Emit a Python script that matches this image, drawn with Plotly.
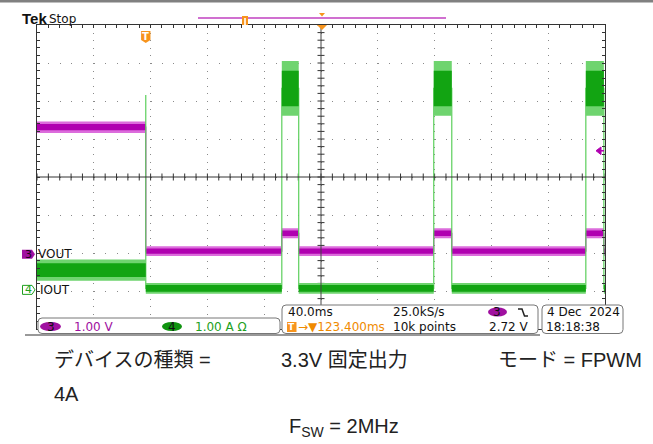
import plotly.graph_objects as go

# ---- scope settings (read from the capture) ----
t_center = 123.4      # ms, horizontal position
t_div = 40.0          # ms/div
ch3_pos = -2.03       # div, VOUT ground marker
ch4_pos = -2.97       # div, IOUT ground marker
ch3_scale = 1.0       # V/div
ch4_scale = 1.0       # A/div
trig_level = 2.72     # V on ch3

# ---- waveform segments (ms) ----
seg_t = [-76.6, 0.0, 95.8, 107.7, 202.8, 215.5, 309.9, 322.6, 323.4]

vout_level = [3.34, 0.08, 0.55, 0.08, 0.55, 0.08, 0.55, 0.08]
vout_noise = [0.15, 0.13, 0.13, 0.13, 0.13, 0.13, 0.13, 0.13]

iout_level = [0.52, 0.04, 5.30, 0.04, 5.30, 0.04, 5.30, 0.04]
iout_noise = [0.28, 0.14, 0.72, 0.14, 0.72, 0.14, 0.72, 0.14]
iout_spike = 5.13     # A, at the trigger edge

# ---- page geometry in pixels ----
W, H = 653, 444
L, T, R, B = 37, 25, 605, 329


def X(px):
    return (px - L) / (R - L)


def Y(py):
    return (B - py) / (B - T)


def band(levels, noise, frac=1.0):
    xs, ys = [], []
    for i, (lv, nz) in enumerate(zip(levels, noise)):
        a, b = seg_t[i], seg_t[i + 1]
        hi, lo = lv + nz * frac, lv - nz * frac
        xs += [a, b, b, a, a, None]
        ys += [hi, hi, lo, lo, hi, None]
    return xs, ys


def edges(levels, spike=None):
    xs, ys = [], []
    for i, lv in enumerate(levels):
        xs += [seg_t[i], seg_t[i + 1]]
        ys += [lv, lv]
        if i == 0 and spike is not None:
            xs.append(seg_t[1])
            ys.append(spike)
    return xs, ys


def rbox(x0, y0, x1, y1, r=4):
    return (f"M {X(x0 + r)},{Y(y0)} L {X(x1 - r)},{Y(y0)} "
            f"Q {X(x1)},{Y(y0)} {X(x1)},{Y(y0 + r)} L {X(x1)},{Y(y1 - r)} "
            f"Q {X(x1)},{Y(y1)} {X(x1 - r)},{Y(y1)} L {X(x0 + r)},{Y(y1)} "
            f"Q {X(x0)},{Y(y1)} {X(x0)},{Y(y1 - r)} L {X(x0)},{Y(y0 + r)} "
            f"Q {X(x0)},{Y(y0)} {X(x0 + r)},{Y(y0)} Z")


fig = go.Figure()

# IOUT (ch4, green)
ex, ey = edges(iout_level, iout_spike)
fig.add_trace(go.Scatter(x=ex, y=ey, yaxis="y3", mode="lines",
                         line=dict(color="#5ccf5c", width=1.2)))
bx, by = band(iout_level, iout_noise)
fig.add_trace(go.Scatter(x=bx, y=by, yaxis="y3", mode="lines", fill="toself",
                         fillcolor="#6fd46f", line=dict(width=0)))
bx, by = band(iout_level, iout_noise, 0.65)
fig.add_trace(go.Scatter(x=bx, y=by, yaxis="y3", mode="lines", fill="toself",
                         fillcolor="#12a412", line=dict(width=0)))

# VOUT (ch3, magenta)
ex, ey = edges(vout_level)
fig.add_trace(go.Scatter(x=ex, y=ey, yaxis="y2", mode="lines",
                         line=dict(color="#c020c0", width=1.2)))
bx, by = band(vout_level, vout_noise)
fig.add_trace(go.Scatter(x=bx, y=by, yaxis="y2", mode="lines", fill="toself",
                         fillcolor="#dc6cdc", line=dict(width=0)))
bx, by = band(vout_level, vout_noise, 0.55)
fig.add_trace(go.Scatter(x=bx, y=by, yaxis="y2", mode="lines", fill="toself",
                         fillcolor="#b000b0", line=dict(width=0)))

# graticule ticks on the centre cross
tick_t = [t_center + k * t_div / 5 for k in range(-25, 26)]
tick_v = [k * 0.2 for k in range(-20, 21)]
fig.add_trace(go.Scatter(x=tick_t, y=[0] * len(tick_t), mode="markers",
                         marker=dict(symbol="line-ns", size=5,
                                     line=dict(width=1, color="#333"))))
fig.add_trace(go.Scatter(x=[t_center] * len(tick_v), y=tick_v, mode="markers",
                         marker=dict(symbol="line-ew", size=5,
                                     line=dict(width=1, color="#333"))))

fig.update_traces(showlegend=False, hoverinfo="skip")

shapes = []
# centre lines
shapes.append(dict(type="line", xref="paper", yref="y", x0=0, x1=1, y0=0, y1=0,
                   line=dict(color="#333", width=1)))
shapes.append(dict(type="line", xref="x", yref="paper", x0=t_center, x1=t_center,
                   y0=0, y1=1, line=dict(color="#444", width=1)))
# top grey bar and record view bar
shapes.append(dict(type="rect", xref="paper", yref="paper", x0=X(0), x1=X(W),
                   y0=Y(2.5), y1=Y(0), fillcolor="#808080", line=dict(width=0)))
shapes.append(dict(type="line", xref="paper", yref="paper", x0=X(198), x1=X(446),
                   y0=Y(18), y1=Y(18), line=dict(color="#c040c0", width=1.5)))
shapes.append(dict(type="rect", xref="paper", yref="paper", x0=X(242), x1=X(248),
                   y0=Y(25), y1=Y(16), fillcolor="#f7941d", line=dict(width=0)))
shapes.append(dict(type="rect", xref="paper", yref="paper", x0=X(244.2), x1=X(245.8),
                   y0=Y(25), y1=Y(18), fillcolor="white", line=dict(width=0)))
shapes.append(dict(type="path", xref="paper", yref="paper",
                   path=f"M {X(319)},{Y(13)} L {X(325)},{Y(13)} L {X(322)},{Y(16.5)} Z",
                   fillcolor="#f7941d", line=dict(width=0)))
shapes.append(dict(type="path", xref="paper", yref="paper",
                   path=f"M {X(317)},{Y(25)} L {X(327)},{Y(25)} L {X(322)},{Y(30)} Z",
                   fillcolor="#f7941d", line=dict(width=0)))
# trigger position marker
shapes.append(dict(type="path", xref="x", yref="paper",
                   path=f"M -3.3,{Y(31)} L 3.3,{Y(31)} L 3.3,{Y(40)} L 0,{Y(43)} L -3.3,{Y(40)} Z",
                   fillcolor="#f7941d", line=dict(width=0)))
# trigger level marker (right edge)
ty = ch3_pos + trig_level / ch3_scale
shapes.append(dict(type="path", xref="paper", yref="y",
                   path=f"M {X(596)},{ty} L {X(601)},{ty + 0.1} L {X(601)},{ty - 0.1} Z",
                   fillcolor="#b000b0", line=dict(color="#b000b0", width=1)))
shapes.append(dict(type="line", xref="paper", yref="y", x0=X(600), x1=X(604),
                   y0=ty, y1=ty, line=dict(color="#b000b0", width=1.5)))
# channel ground markers
y3 = ch3_pos
y4 = ch4_pos
d = 4.5 / 38
shapes.append(dict(type="path", xref="paper", yref="y",
                   path=f"M {X(22)},{y3 + d} L {X(32)},{y3 + d} L {X(35)},{y3} "
                        f"L {X(32)},{y3 - d} L {X(22)},{y3 - d} Z",
                   fillcolor="#a010a0", line=dict(width=0)))
shapes.append(dict(type="path", xref="paper", yref="y",
                   path=f"M {X(22.5)},{y4 + d} L {X(32)},{y4 + d} L {X(35)},{y4} "
                        f"L {X(32)},{y4 - d} L {X(22.5)},{y4 - d} Z",
                   fillcolor="white", line=dict(color="#20a020", width=1)))
# bottom frame line
shapes.append(dict(type="line", xref="paper", yref="paper", x0=X(25), x1=X(540),
                   y0=Y(335), y1=Y(335), line=dict(color="#333", width=1)))
# status boxes
for bx0, by0, bx1, by1 in [(38, 318, 280, 333.5), (282, 305, 538, 333.5), (542, 305, 623, 333.5)]:
    shapes.append(dict(type="path", xref="paper", yref="paper", path=rbox(bx0, by0, bx1, by1),
                       fillcolor="white", line=dict(color="#777", width=1)))
for cx0, cy0, cx1, cy1, col in [(40, 322, 61, 331, "#a010a0"), (162, 322, 182, 331, "#109410"),
                                (488, 307.5, 507, 316.5, "#a010a0")]:
    shapes.append(dict(type="circle", xref="paper", yref="paper", x0=X(cx0), x1=X(cx1),
                       y0=Y(cy1), y1=Y(cy0), fillcolor=col, line=dict(width=0)))
shapes.append(dict(type="rect", xref="paper", yref="paper", x0=X(287), x1=X(296.5),
                   y0=Y(332), y1=Y(322), fillcolor="#f7941d", line=dict(width=0)))
shapes.append(dict(type="path", xref="paper", yref="paper",
                   path=f"M {X(518)},{Y(309)} L {X(522)},{Y(309)} L {X(524.5)},{Y(316)} L {X(528)},{Y(316)}",
                   line=dict(color="#222", width=1.5)))

annotations = []


def txt(x, y, s, size=12, color="#111", family="DejaVu Sans", xref="paper", yref="paper", **kw):
    annotations.append(dict(x=X(x) if xref == "paper" else x, y=Y(y) if yref == "paper" else y,
                            xref=xref, yref=yref, text=s, showarrow=False,
                            xanchor=kw.pop("xanchor", "left"), yanchor="middle",
                            font=dict(size=size, color=color, family=family), **kw))


txt(20, 18, "<b>Tek</b>", size=15, family="Liberation Sans")
txt(47, 19, "Stop", size=12)
txt(0, 36.5, "<b>T</b>", size=10, color="white", xref="x", xanchor="center")
txt(28.5, y3, "3", size=11, color="#1a001a", yref="y", xanchor="center")
txt(28, y4, "4", size=11, color="#20a020", yref="y", xanchor="center")
txt(36, y3, "VOUT", size=12, yref="y")
txt(38, y4, "IOUT", size=12, yref="y")

txt(50.5, 326.5, "3", size=12, color="#111", xanchor="center")
txt(72, 326.5, "1.00 V", size=12, color="#a010a0")
txt(172, 326.5, "4", size=12, color="#111", xanchor="center")
txt(193, 326.5, "1.00 A \u03a9", size=12, color="#22a022")
txt(286, 312, "40.0ms", size=12)
txt(391, 312, "25.0kS/s", size=12)
txt(497.5, 312, "3", size=12, color="#111", xanchor="center")
txt(291.8, 327, "<b>T</b>", size=9, color="white", xanchor="center")
txt(296, 327, "\u2192\u25bc123.400ms", size=12, color="#f08a00")
txt(391, 327, "10k points", size=12)
txt(531, 327, "2.72 V", size=12, xanchor="right")
txt(622, 312, "4 Dec  2024", size=12, xanchor="right")
txt(544, 327, "18:18:38", size=12)

jp = "Liberation Sans, Noto Sans CJK JP"
txt(52, 360, "デバイスの種類 =", size=20, color="#222", family=jp)
txt(279, 360, "3.3V 固定出力", size=20, color="#222", family=jp)
txt(496, 360, "モード = FPWM", size=20, color="#222", family=jp)
txt(52, 394, "4A", size=20, color="#222", family=jp)
txt(287, 427, "F<sub>SW</sub> = 2MHz", size=20, color="#222", family=jp)

fig.update_layout(
    width=W, height=H,
    margin=dict(l=L, r=W - R, t=T, b=H - B),
    paper_bgcolor="white", plot_bgcolor="white",
    shapes=shapes, annotations=annotations,
    xaxis=dict(range=[t_center - 5 * t_div, t_center + 5 * t_div], tickmode="linear",
               tick0=t_center, dtick=t_div, showticklabels=False, zeroline=False,
               showgrid=True, gridcolor="#8a8a8a", griddash="1px,6.6px", gridwidth=1,
               showline=True, linecolor="#333", linewidth=1, mirror="ticks",
               ticks="inside", ticklen=3, tickcolor="#333",
               minor=dict(dtick=t_div / 5, tick0=t_center, ticks="inside", ticklen=3,
                          tickcolor="#333", showgrid=False)),
    yaxis=dict(range=[-4, 4], tickmode="linear", tick0=0, dtick=1, showticklabels=False,
               zeroline=False, showgrid=True, gridcolor="#8a8a8a", griddash="1px,10.36px",
               showline=True, linecolor="#333", linewidth=1, mirror="ticks",
               ticks="inside", ticklen=3, tickcolor="#333",
               minor=dict(dtick=0.2, tick0=0, ticks="inside", ticklen=3,
                          tickcolor="#333", showgrid=False)),
    yaxis2=dict(overlaying="y", range=[(-4 - ch3_pos) * ch3_scale, (4 - ch3_pos) * ch3_scale],
                visible=False),
    yaxis3=dict(overlaying="y", range=[(-4 - ch4_pos) * ch4_scale, (4 - ch4_pos) * ch4_scale],
                visible=False),
)

# page body has a default 8px margin; remove it so the figure sits at the window origin
fig.write_html("out.html", config={"displayModeBar": False},
               post_script="document.body.style.margin='0px';")
